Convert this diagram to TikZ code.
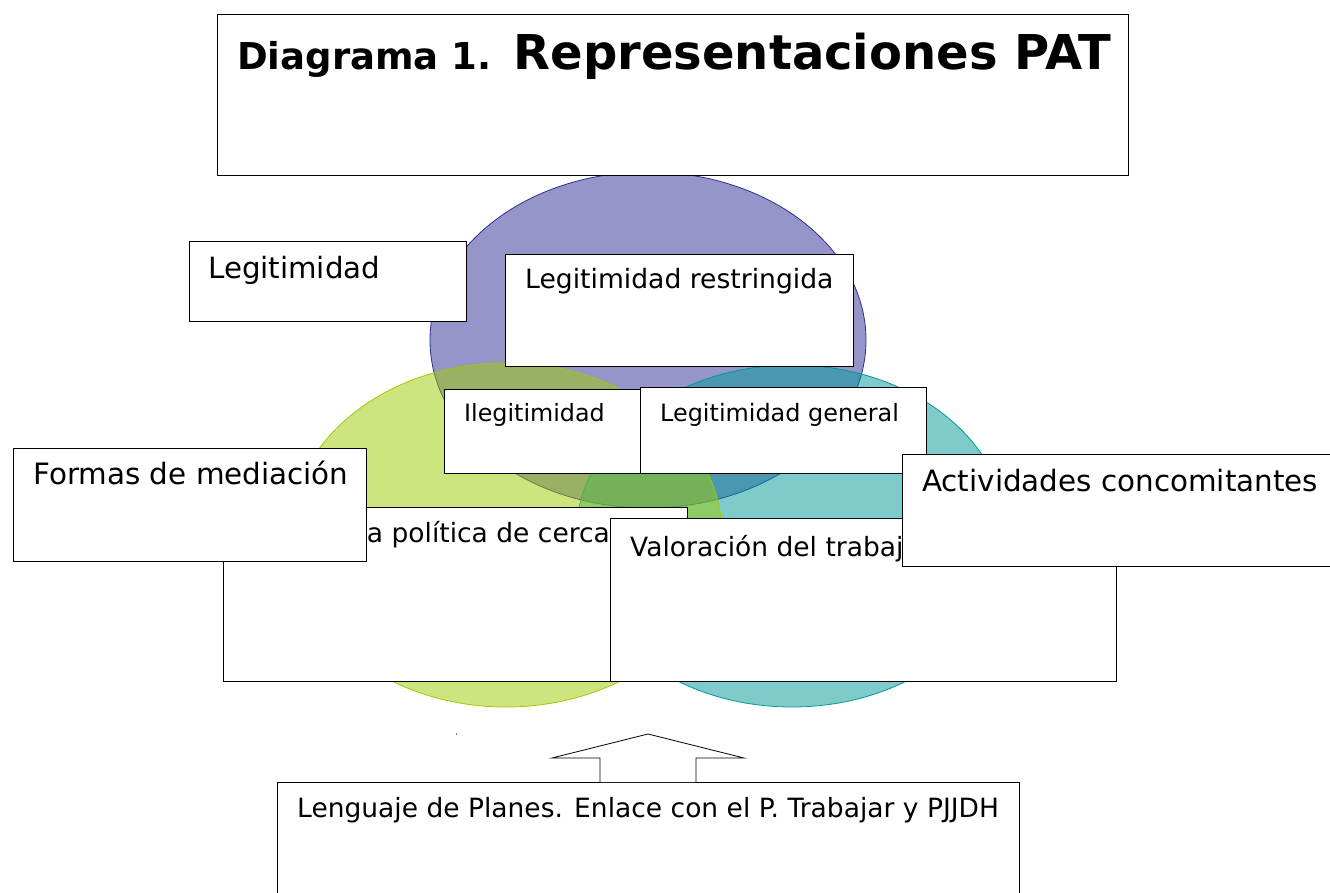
\documentclass[tikz,border=0pt]{standalone}
\usepackage{fontspec}
\setmainfont{DejaVu Sans}
\definecolor{vpurple}{HTML}{2D2D97}
\definecolor{vteal}{HTML}{009999}
\definecolor{vgreen}{HTML}{9FCB00}
\begin{document}
\begin{tikzpicture}[x=1pt,y=-1pt,
  box/.style={draw=black,line width=0.9pt,fill=white,rectangle,inner sep=0pt,anchor=north west},
  lbl/.style={anchor=base west,inner sep=0pt,text=black},
  venn/.style={line width=0.8pt,fill opacity=0.5,draw opacity=1}]
\useasboundingbox (0,0) rectangle (1330,892);
\fill[white] (0,0) rectangle (1330,892);
% Venn circles
\path[venn,draw=vpurple,fill=vpurple] (648,340) ellipse [x radius=218,y radius=168];
\path[venn,draw=vteal,fill=vteal] (792,536) ellipse [x radius=216,y radius=171];
\path[venn,draw=vgreen,fill=vgreen] (506,535) ellipse [x radius=216,y radius=172];
% title
\node[box,minimum width=911pt,minimum height=161pt] (title) at (217,14) {};
\node[lbl] (titletext) at (237,69) {\bfseries{\fontsize{37}{44}\selectfont Diagrama 1.}{\fontsize{48}{57}\selectfont{} Representaciones PAT}};
% boxes
\node[box,minimum width=277pt,minimum height=80pt] (legit) at (189,241) {};
\node[lbl] (legittext) at (208,278) {\fontsize{29.3}{34}\selectfont Legitimidad};
\node[box,minimum width=348pt,minimum height=112pt] (restr) at (505,254) {};
\node[lbl] (restrtext) at (525,288) {\fontsize{26.6}{31}\selectfont Legitimidad restringida};
\node[box,minimum width=197pt,minimum height=84pt] (ileg) at (444,389) {};
\node[lbl] (ilegtext) at (464,421) {\fontsize{23.8}{28}\selectfont Ilegitimidad};
\node[box,minimum width=286pt,minimum height=86pt] (gen) at (640,387) {};
\node[lbl] (gentext) at (660,421) {\fontsize{23.9}{28}\selectfont Legitimidad general};
\node[box,minimum width=464pt,minimum height=174pt] (pol) at (223,507) {};
\node[lbl] (poltext) at (352,542) {\fontsize{26.5}{31}\selectfont La política de cercanía};
\node[box,minimum width=506pt,minimum height=163pt] (val) at (610,518) {};
\node[lbl] (valtext) at (630,556) {\fontsize{26.5}{31}\selectfont Valoración del trabajo};
\node[box,minimum width=353pt,minimum height=113pt] (formas) at (13,448) {};
\node[lbl] (formastext) at (33,484) {\fontsize{29.4}{34}\selectfont Formas de mediación};
\node[box,minimum width=440pt,minimum height=112pt] (activ) at (902,454) {};
\node[lbl] (activtext) at (922,491) {\fontsize{29.4}{34}\selectfont Actividades concomitantes};
\node[box,minimum width=742pt,minimum height=130pt] (leng) at (277,782) {};
\node[lbl] (lengtext) at (297,817) {\fontsize{26.5}{31}\selectfont Lenguaje de Planes. Enlace con el P. Trabajar y PJJDH};
% up arrow
\coordinate (al) at (600,782);
\coordinate (ar) at (696,782);
\draw[line width=0.8pt,fill=white] (al) -- (600,758) -- (552,758) -- (648,734) -- (744,758) -- (696,758) -- (ar);
% stray dot
\fill[black] (456.5,734) circle [radius=0.6];
\end{tikzpicture}
\end{document}
